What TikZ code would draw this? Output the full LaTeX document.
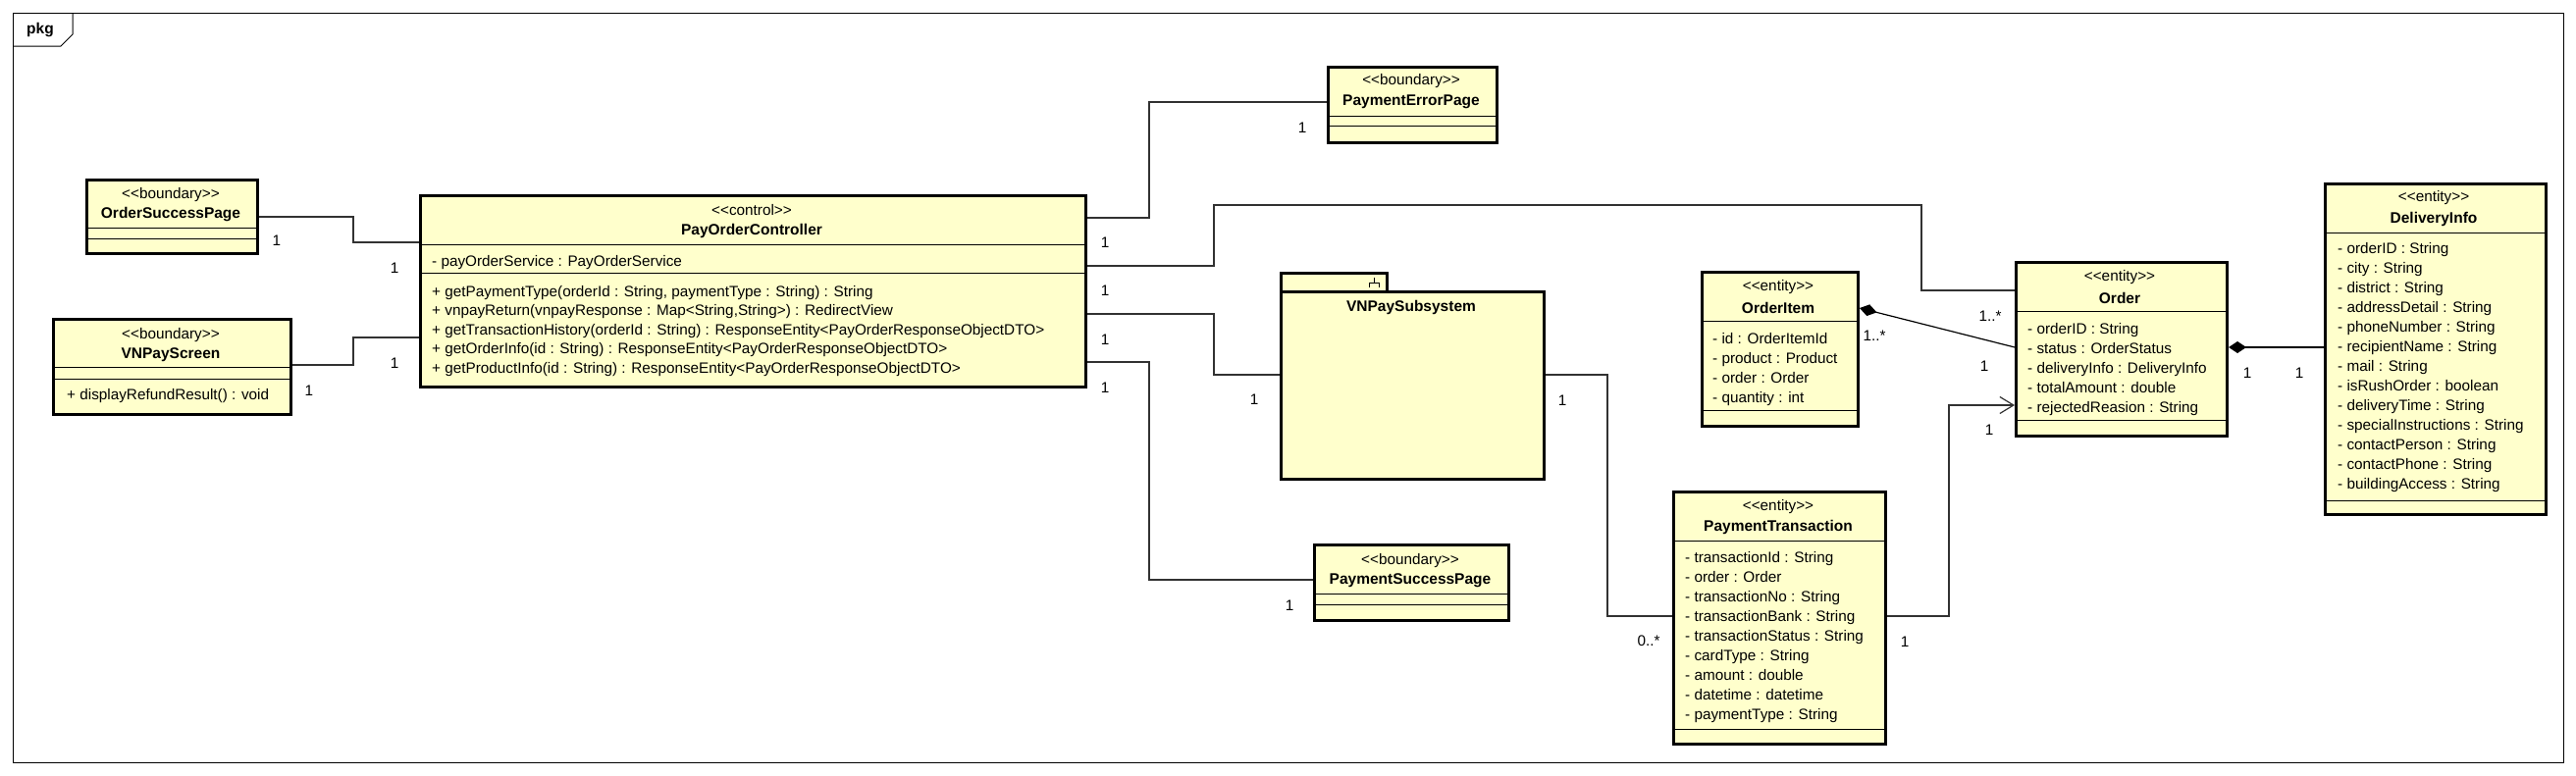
\documentclass[tikz,border=0pt]{standalone}
\usepackage{fontspec}
\setmainfont{Liberation Sans}
\newfontfamily\umlfont{Liberation Sans}
\usepackage{tikz}
\usetikzlibrary{arrows.meta}
\definecolor{umlFill}{RGB}{255,255,204}
\definecolor{umlLine}{RGB}{50,50,50}
\tikzset{
	classbox/.style={draw=black, line width=3pt, fill=umlFill, anchor=north west, inner sep=0pt},
	sepline/.style={black, line width=1pt},
	txt/.style={inner sep=0pt, font=\umlfont\fontsize{15.3}{20}\selectfont},
	cname/.style={inner sep=0pt, font=\umlfont\bfseries\fontsize{15.5}{20}\selectfont},
	attrs/.style={txt, anchor=north west, align=left},
	assoc/.style={draw=umlLine, line width=1.2pt},
}

\begin{document}
\begin{tikzpicture}[x=1pt, y=-1pt]
	\path[use as bounding box, fill=white] (0,0) rectangle (2625,790);
	\draw[line width=1pt] (13,13) rectangle (2612,777);
	\draw[line width=1pt] (13,47) -- (62,47) -- (74,35) -- (74,13);
	\node[cname] (pkg) at (41,31) {pkg};

	% boundary classes
	\node[classbox, minimum width=174pt, minimum height=75pt] (osp) at (87,182) {};
	\node[txt] (osp-st) at (174,199) {<<boundary>>};
	\node[cname] (osp-nm) at (174,219) {OrderSuccessPage};
	\draw[sepline] (osp.west |- 0,232) -- (osp.east |- 0,232);
	\draw[sepline] (osp.west |- 0,243) -- (osp.east |- 0,243);

	\node[classbox, minimum width=242pt, minimum height=97pt] (vps) at (53,324) {};
	\node[txt] (vps-st) at (174,342) {<<boundary>>};
	\node[cname] (vps-nm) at (174,362) {VNPayScreen};
	\draw[sepline] (vps.west |- 0,374) -- (vps.east |- 0,374);
	\draw[sepline] (vps.west |- 0,386) -- (vps.east |- 0,386);
	\node[attrs] (vps-op) at (68,396) {+ displayRefundResult() : void};

	\node[classbox, minimum width=172pt, minimum height=77pt] (pep) at (1352,67) {};
	\node[txt] (pep-st) at (1438,83) {<<boundary>>};
	\node[cname] (pep-nm) at (1438,104) {PaymentErrorPage};
	\draw[sepline] (pep.west |- 0,118) -- (pep.east |- 0,118);
	\draw[sepline] (pep.west |- 0,128) -- (pep.east |- 0,128);

	\node[classbox, minimum width=198pt, minimum height=77pt] (psp) at (1338,554) {};
	\node[txt] (psp-st) at (1437,572) {<<boundary>>};
	\node[cname] (psp-nm) at (1437,592) {PaymentSuccessPage};
	\draw[sepline] (psp.west |- 0,605) -- (psp.east |- 0,605);
	\draw[sepline] (psp.west |- 0,616) -- (psp.east |- 0,616);

	% control
	\node[classbox, minimum width=678pt, minimum height=195pt] (ctrl) at (427,198) {};
	\node[txt] (ctrl-st) at (766,214) {<<control>>};
	\node[cname] (ctrl-nm) at (766,235) {PayOrderController};
	\draw[sepline] (ctrl.west |- 0,249) -- (ctrl.east |- 0,249);
	\node[attrs] (ctrl-at) at (440,260) {- payOrderService : PayOrderService};
	\draw[sepline] (ctrl.west |- 0,278) -- (ctrl.east |- 0,278);
	\node[attrs, font=\umlfont\fontsize{15.3}{19.5}\selectfont] (ctrl-op) at (440,291) {+ getPaymentType(orderId : String, paymentType : String) : String\\
		+ vnpayReturn(vnpayResponse : Map<String,String>) : RedirectView\\
		+ getTransactionHistory(orderId : String) : ResponseEntity<PayOrderResponseObjectDTO>\\
		+ getOrderInfo(id : String) : ResponseEntity<PayOrderResponseObjectDTO>\\
		+ getProductInfo(id : String) : ResponseEntity<PayOrderResponseObjectDTO>};

	% subsystem
	\node[classbox, minimum width=108pt, minimum height=19pt] (sub-tab) at (1304,277) {};
	\node[classbox, minimum width=268pt, minimum height=191pt] (sub) at (1304,296) {};
	\node[cname] (sub-nm) at (1438,313) {VNPaySubsystem};
	\draw[line width=1pt] (1395,293) -- (1395,288) -- (1405,288) -- (1405,293) (1400,288) -- (1400,283);

	% entities
	\node[classbox, minimum width=216pt, minimum height=257pt] (ptx) at (1704,500) {};
	\node[txt] (ptx-st) at (1812,517) {<<entity>>};
	\node[cname] (ptx-nm) at (1812,537) {PaymentTransaction};
	\draw[sepline] (ptx.west |- 0,551) -- (ptx.east |- 0,551);
	\node[attrs] (ptx-at) at (1717,562) {- transactionId : String\\- order : Order\\- transactionNo : String\\
		- transactionBank : String\\- transactionStatus : String\\- cardType : String\\
		- amount : double\\- datetime : datetime\\- paymentType : String};
	\draw[sepline] (ptx.west |- 0,743) -- (ptx.east |- 0,743);

	\node[classbox, minimum width=159pt, minimum height=157pt] (oit) at (1733,276) {};
	\node[txt] (oit-st) at (1812,293) {<<entity>>};
	\node[cname] (oit-nm) at (1812,314) {OrderItem};
	\draw[sepline] (oit.west |- 0,327) -- (oit.east |- 0,327);
	\node[attrs] (oit-at) at (1745,339) {- id : OrderItemId\\- product : Product\\- order : Order\\- quantity : int};
	\draw[sepline] (oit.west |- 0,418) -- (oit.east |- 0,418);

	\node[classbox, minimum width=215pt, minimum height=177pt] (ord) at (2053,266) {};
	\node[txt] (ord-st) at (2160,283) {<<entity>>};
	\node[cname] (ord-nm) at (2160,304) {Order};
	\draw[sepline] (ord.west |- 0,317) -- (ord.east |- 0,317);
	\node[attrs] (ord-at) at (2066,329) {- orderID : String\\- status : OrderStatus\\- deliveryInfo : DeliveryInfo\\
		- totalAmount : double\\- rejectedReasion : String};
	\draw[sepline] (ord.west |- 0,428) -- (ord.east |- 0,428);

	\node[classbox, minimum width=225pt, minimum height=337pt] (dinfo) at (2368,186) {};
	\node[txt] (dinfo-st) at (2480,202) {<<entity>>};
	\node[cname] (dinfo-nm) at (2480,223) {DeliveryInfo};
	\draw[sepline] (dinfo.west |- 0,237) -- (dinfo.east |- 0,237);
	\node[attrs] (dinfo-at) at (2382,247) {- orderID : String\\- city : String\\- district : String\\
		- addressDetail : String\\- phoneNumber : String\\- recipientName : String\\- mail : String\\
		- isRushOrder : boolean\\- deliveryTime : String\\- specialInstructions : String\\
		- contactPerson : String\\- contactPhone : String\\- buildingAccess : String};
	\draw[sepline] (dinfo.west |- 0,510) -- (dinfo.east |- 0,510);

	% associations
	\draw[assoc] (osp.east) -| (360,247) -- (ctrl.west |- 0,247);
	\draw[assoc] (vps.east |- 0,372) -| (360,344) -- (ctrl.west |- 0,344);
	\draw[assoc] (ctrl.east |- 0,222) -| (1171,104) -- (pep.west |- 0,104);
	\draw[assoc] (ctrl.east |- 0,271) -| (1237,209) -| (1958,296) -- (ord.west |- 0,296);
	\draw[assoc] (ctrl.east |- 0,320) -| (1237,382) -- (sub.west |- 0,382);
	\draw[assoc] (ctrl.east |- 0,369) -| (1171,591) -- (psp.west |- 0,591);
	\draw[assoc] (sub.east |- 0,382) -| (1638,628) -- (ptx.west |- 0,628);
	\draw[assoc, -{Straight Barb[length=14pt, width=17pt]}] (ptx.east |- 0,628) -| (1986,413) -- (ord.west |- 0,413);
	\draw[assoc, black, {Diamond[length=18pt, width=12pt]}-] (oit.east |- 0,314) -- (ord.west |- 0,354);
	\draw[assoc, black, {Diamond[length=18pt, width=12pt]}-] (ord.east |- 0,354) -- (dinfo.west |- 0,354);

	% multiplicities
	\node[txt] (m1) at (282,245) {1};
	\node[txt] (m2) at (402,273) {1};
	\node[txt] (m3) at (315,398) {1};
	\node[txt] (m4) at (402,370) {1};
	\node[txt] (m5) at (1126,247) {1};
	\node[txt] (m6) at (1327,130) {1};
	\node[txt] (m7) at (1126,296) {1};
	\node[txt] (m8) at (2028,322) {1..*};
	\node[txt] (m9) at (1126,346) {1};
	\node[txt] (m10) at (1278,407) {1};
	\node[txt] (m11) at (1126,395) {1};
	\node[txt] (m12) at (1314,617) {1};
	\node[txt] (m13) at (1592,408) {1};
	\node[txt] (m14) at (1680,653) {0..*};
	\node[txt] (m15) at (1941,654) {1};
	\node[txt] (m16) at (2027,438) {1};
	\node[txt] (m17) at (1910,342) {1..*};
	\node[txt] (m18) at (2022,373) {1};
	\node[txt] (m19) at (2290,380) {1};
	\node[txt] (m20) at (2343,380) {1};
\end{tikzpicture}
\end{document}
